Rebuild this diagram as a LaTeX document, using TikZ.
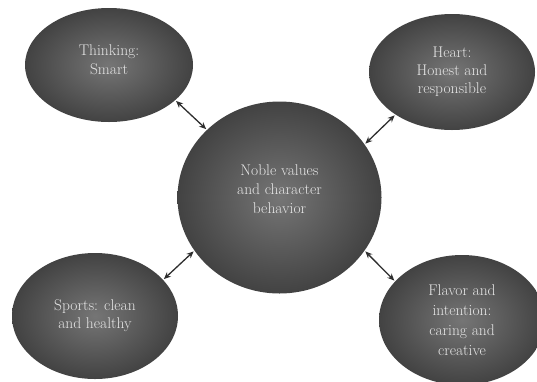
\documentclass[tikz,border=0pt]{standalone}
\usetikzlibrary{shapes.geometric,arrows.meta}
\begin{document}
\begin{tikzpicture}[x=1pt,y=-1pt,
    ball/.style={ellipse,inner sep=0pt,shading=radial,inner color=black!54,outer color=black!74,
        text=black!10,align=center,font=\fontsize{15.5}{18}\selectfont},
    link/.style={{Stealth[length=7pt,width=6pt]}-{Stealth[length=7pt,width=6pt]},line width=1.3pt,black!82,shorten <=1pt,shorten >=1pt}]
    \useasboundingbox (0,0) rectangle (537,381);
    \node[ball,minimum width=168pt,minimum height=114pt,
        label={[text=black!10,align=center,font=\fontsize{15.5}{19}\selectfont,yshift=5pt]center:{Thinking:\\Smart}}] (think) at (109,65) {};
    \node[ball,minimum width=166pt,minimum height=116pt] (heart) at (452,72) {Heart:\\Honest and\\responsible};
    \node[ball,minimum width=204pt,minimum height=192pt,
        label={[text=black!10,align=center,font=\fontsize{15.5}{19}\selectfont,yshift=8pt]center:{Noble values\\and character\\behavior}}] (noble) at (279.5,197.5) {};
    \node[ball,minimum width=166pt,minimum height=126pt] (sport) at (95,316) {Sports: clean\\and healthy};
    \node[ball,minimum width=166pt,minimum height=130pt,font=\fontsize{15.5}{20}\selectfont] (taste) at (462,320) {Flavor and\\intention:\\caring and\\creative};
    % connectors
    \draw[link] (think.-28) -- (noble.137);
    \draw[link] (heart.217.5) -- (noble.32.5);
    \draw[link] (sport.28.4) -- (noble.212);
    \draw[link] (taste.150.3) -- (noble.-32.8);
\end{tikzpicture}
\end{document}
